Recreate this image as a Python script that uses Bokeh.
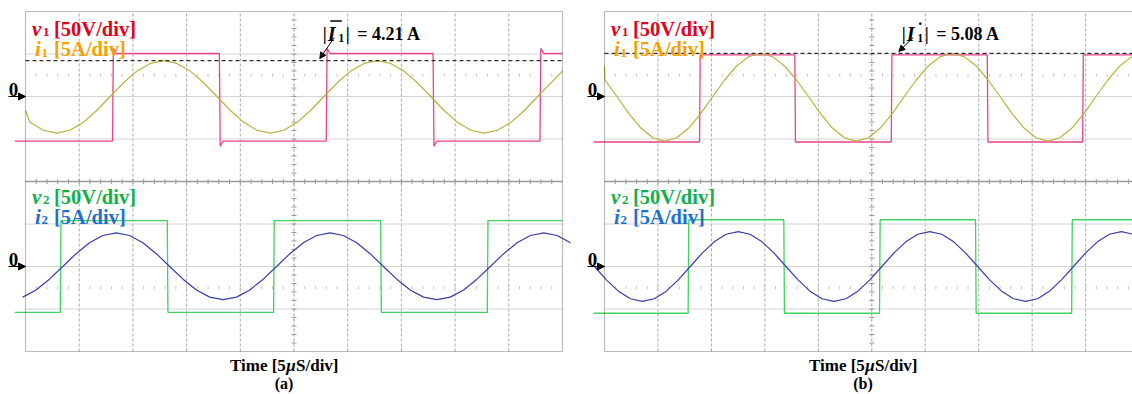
import numpy as np
from bokeh.plotting import figure
from bokeh.layouts import row
from bokeh.models import Range1d, Label, Arrow, NormalHead, BoxAnnotation
from bokeh.embed import file_html
from bokeh.resources import INLINE

# ---------------- data read from the two oscilloscope captures ----------------
# time in microseconds, voltage in V, current in A
V_DIV, I_DIV, T_DIV = 50.0, 5.0, 5.0
N_XDIV, N_YDIV = 10, 8

# panel (a)
V1A_EDGES = [8.10, 18.05, 28.00, 37.95, 47.90]
V1A_LEVELS = [-52.4, 50.6, -52.4, 50.6, -52.4, 50.6]
V1A_SPIKE = 6.0
I1A_T0, I1A_DT = -0.83, 1.244
I1A = [-1.65, -3.04, -3.97, -4.30, -3.97, -3.04, -1.65, 0.00, 1.61, 2.98, 3.89,
       4.21, 3.89, 2.98, 1.61, 0.00, -1.65, -3.04, -3.97, -4.30, -3.97, -3.04, -1.65, 0.00, 1.61, 2.98, 3.89,
       4.21, 3.89, 2.98, 1.61, 0.00, -1.65, -3.04, -3.97, -4.30, -3.97, -3.04, -1.65, 0.00, 1.61, 2.98]
V2A_EDGES = [3.24, 13.20, 23.10, 33.07, 43.00]
V2A_LEVELS = [-54.0, 54.0, -54.0, 54.0, -54.0, 54.0]
I2A_T0, I2A_DT = -0.26, 1.244
I2A = [-3.60, -2.76, -1.49, 0.00, 1.51, 2.79, 3.65,
       3.95, 3.65, 2.79, 1.51, 0.00, -1.49, -2.76, -3.60, -3.90, -3.60, -2.76, -1.49, 0.00, 1.51, 2.79, 3.65,
       3.95, 3.65, 2.79, 1.51, 0.00, -1.49, -2.76, -3.60, -3.90, -3.60, -2.76, -1.49, 0.00, 1.51, 2.79, 3.65,
       3.95, 3.65, 2.79]
I1A_PEAK = 4.21

# panel (b)
V1B_EDGES = [8.89, 17.80, 26.82, 35.80, 44.72]
V1B_LEVELS = [-53.5, 49.0, -53.5, 49.0, -53.5, 49.0]
I1B_T0, I1B_DT = -1.08, 1.12
I1B = [3.59, 1.94, 0.00, -2.01, -3.71, -4.85, -5.25, -4.85, -3.71, -2.01, 0.00, 1.94, 3.59, 4.69,
       5.08, 4.69, 3.59, 1.94, 0.00, -2.01, -3.71, -4.85, -5.25, -4.85, -3.71, -2.01, 0.00, 1.94, 3.59, 4.69,
       5.08, 4.69, 3.59, 1.94, 0.00, -2.01, -3.71, -4.85, -5.25, -4.85, -3.71, -2.01, 0.00, 1.94, 3.59, 4.69]
V2B_EDGES = [7.82, 16.77, 25.72, 34.70, 43.69]
V2B_LEVELS = [-55.0, 55.0, -55.0, 55.0, -55.0, 55.0]
I2B_T0, I2B_DT = -0.94, 1.12
I2B = [0.00, -1.57, -2.90, -3.79, -4.10, -3.79, -2.90, -1.57, 0.00, 1.57, 2.90, 3.79,
       4.10, 3.79, 2.90, 1.57, 0.00, -1.57, -2.90, -3.79, -4.10, -3.79, -2.90, -1.57, 0.00, 1.57, 2.90, 3.79,
       4.10, 3.79, 2.90, 1.57, 0.00, -1.57, -2.90, -3.79, -4.10, -3.79, -2.90, -1.57, 0.00, 1.57, 2.90, 3.79,
       4.10, 3.79]
I1B_PEAK = 5.08

# ---------------- styling / layout ----------------
FONT = "Liberation Serif"
C_V1, C_I1, C_V2, C_I2 = "#e8438b", "#b8b23c", "#3fd35f", "#3b3ca6"
L_V1, L_I1, L_V2, L_I2 = "#e3001b", "#f5a100", "#10b14a", "#1e6fd0"
TOP0, BOT0 = 2.0, -2.0        # screen positions (divisions) of the two zero levels
H = 394
PX_DIV_Y = 42.5
SCOPE_TOP_PX = 11
T_SPAN = N_XDIV * T_DIV


def square(edges, levels, spike):
    xs, ys = [-1.0], [levels[0]]
    for k, e in enumerate(edges):
        nxt = levels[k + 1]
        if spike:
            s = spike if nxt > levels[k] else -spike
            xs += [e, e + 0.08, e + 0.35]
            ys += [levels[k], nxt + s, nxt]
        else:
            xs += [e, e + 0.06]
            ys += [levels[k], nxt]
    xs.append(T_SPAN)
    ys.append(levels[-1])
    return np.array(xs), np.array(ys)


def lab(p, y, text, size, color="black", style="bold", xo=0.0, x=0.0, align="left"):
    p.add_layout(Label(x=x, y=y, text=text, x_offset=xo, text_font=FONT,
                       text_font_style=style, text_font_size=f"{size}px",
                       text_color=color, text_baseline="alphabetic", text_align=align))


def make_panel(width, left_px, ppu):
    y_top = N_YDIV / 2 + SCOPE_TOP_PX / PX_DIV_Y
    y_bot = N_YDIV / 2 - (H - SCOPE_TOP_PX) / PX_DIV_Y
    p = figure(width=width, height=H,
               x_range=Range1d(-left_px / ppu, (width - left_px) / ppu),
               y_range=Range1d(y_bot, y_top),
               output_backend="svg", toolbar_location=None, title=None,
               x_axis_location=None, y_axis_location=None, min_border=0)
    p.background_fill_color = "white"
    p.border_fill_color = "white"
    p.outline_line_color = None
    p.xgrid.visible = False
    p.ygrid.visible = False
    half = N_YDIV / 2
    # graticule
    vx = np.array([k * T_DIV for k in range(1, N_XDIV) if k != N_XDIV // 2])
    p.segment(vx, -half, vx, half, line_color="#a9a9a9", line_dash="3 2", line_width=1)
    hy = np.array([k for k in range(-3, 4) if k != 0], dtype=float)
    p.segment(0, hy, T_SPAN, hy, line_color="#d4d4d4", line_width=1)
    p.segment(T_SPAN / 2, -half, T_SPAN / 2, half, line_color="#9a9a9a", line_dash="3 2", line_width=1)
    p.segment(0, 0, T_SPAN, 0, line_color="#9a9a9a", line_width=1.3)
    tt = np.arange(1, T_SPAN, 1.0)
    p.scatter(tt, np.zeros_like(tt), marker="dash", angle=np.pi / 2, size=5, color="#9a9a9a")
    yy = np.array([v for v in np.arange(-3.8, 3.9, 0.2) if abs(v) > 1e-6])
    p.scatter(np.full_like(yy, T_SPAN / 2), yy, marker="dash", size=5, color="#9a9a9a")
    for yr in (2.5, -2.5):
        p.scatter(tt, np.full_like(tt, yr), marker="dash", angle=np.pi / 2, size=3, color="#c4c4c4")
    p.add_layout(BoxAnnotation(left=0, right=T_SPAN, bottom=-half, top=half, fill_color=None,
                               fill_alpha=0, line_color="#222222", line_width=1.2))
    return p


def traces(p, v1e, v1l, spike, i1t0, i1dt, i1, v2e, v2l, i2t0, i2dt, i2):
    x, y = square(v1e, v1l, spike)
    p.line(x, TOP0 + y / V_DIV, line_color=C_V1, line_width=1.3)
    t = i1t0 + i1dt * np.arange(len(i1))
    m = t <= T_SPAN + 1.3
    p.line(np.clip(t[m], 0, T_SPAN), TOP0 + np.array(i1)[m] / I_DIV, line_color=C_I1, line_width=1.2)
    x, y = square(v2e, v2l, 0)
    p.line(x, BOT0 + y / V_DIV, line_color=C_V2, line_width=1.3)
    t = i2t0 + i2dt * np.arange(len(i2))
    p.line(t, BOT0 + np.array(i2) / I_DIV, line_color=C_I2, line_width=1.2)


def texts(p, peak, letter, mark, ppu):
    for (yb, ys, sym, rest, c, xs_sym, xs_sub) in [
            (3.588, 3.506, "v", "[50V/div]", L_V1, 6.5, 17.5),
            (3.118, 3.035, "i", "[5A/div]", L_I1, 9.5, 16.0)]:
        lab(p, yb, sym, 21, c, "bold italic", xo=xs_sym)
        lab(p, ys, "1", 13, c, "bold", xo=xs_sub)
        lab(p, yb, rest, 20.5, c, "bold", xo=28.5)
    for (yb, ys, sym, rest, c, xs_sym, xs_sub) in [
            (-0.353, -0.435, "v", "[50V/div]", L_V2, 6.5, 17.5),
            (-0.824, -0.906, "i", "[5A/div]", L_I2, 9.5, 16.0)]:
        lab(p, yb, sym, 21, c, "bold italic", xo=xs_sym)
        lab(p, ys, "2", 13, c, "bold", xo=xs_sub)
        lab(p, yb, rest, 20.5, c, "bold", xo=28.5)
    for y0, yb in [(TOP0, 2.165), (BOT0, -1.835)]:
        lab(p, yb, "0", 19, "black", "bold", xo=-12.0, align="center")
        p.add_layout(Arrow(end=NormalHead(size=7, fill_color="black", line_color="black"),
                           x_start=-17.0 / ppu, y_start=y0, x_end=0, y_end=y0,
                           line_color="black", line_width=1.2))
    yp = TOP0 + peak / I_DIV
    p.segment(0, yp, T_SPAN, yp, line_color="black", line_dash="4 3", line_width=1)
    ax = 297.3 / ppu
    lab(p, 3.459, "|", 18, xo=0, x=ax)
    lab(p, 3.459, "I", 20, style="bold italic", xo=5, x=ax)
    lab(p, 3.376, "1", 12, xo=15.5, x=ax)
    lab(p, 3.459, "|", 18, xo=23, x=ax)
    lab(p, 3.459, f"= {peak:.2f} A", 18, xo=34.5, x=ax)
    if mark == "bar":
        p.add_layout(Arrow(end=None, x_start=ax + 7.5 / ppu, y_start=3.776,
                           x_end=ax + 19.0 / ppu, y_end=3.776, line_color="black", line_width=1.3))
    else:
        lab(p, 3.812, ".", 16, xo=16.5, x=ax)
    p.add_layout(Arrow(end=NormalHead(size=6, fill_color="black", line_color="black"),
                       x_start=ax + 11.5 / ppu, y_start=3.388,
                       x_end=ax - 3.0 / ppu, y_end=2.894 if mark == "bar" else 3.06,
                       line_color="black", line_width=1))
    lab(p, -4.329, "Time [5", 17, xo=204.5)
    lab(p, -4.329, "\u03bc", 17, style="bold italic", xo=260.7)
    lab(p, -4.329, "S/div]", 17, xo=270.5)
    lab(p, -4.753, f"({letter})", 16, xo=258.5, align="center")


PPU_A = 537.0 / T_SPAN
PPU_B = 534.6 / T_SPAN

pa = make_panel(572, 25, PPU_A)
traces(pa, V1A_EDGES, V1A_LEVELS, V1A_SPIKE, I1A_T0, I1A_DT, I1A,
       V2A_EDGES, V2A_LEVELS, I2A_T0, I2A_DT, I2A)
texts(pa, I1A_PEAK, "a", "bar", PPU_A)

pb = make_panel(560, 32, PPU_B)
traces(pb, V1B_EDGES, V1B_LEVELS, 0, I1B_T0, I1B_DT, I1B,
       V2B_EDGES, V2B_LEVELS, I2B_T0, I2B_DT, I2B)
texts(pb, I1B_PEAK, "b", "dot", PPU_B)

layout = row(pa, pb)
open("out.html", "w").write(file_html(layout, INLINE))
